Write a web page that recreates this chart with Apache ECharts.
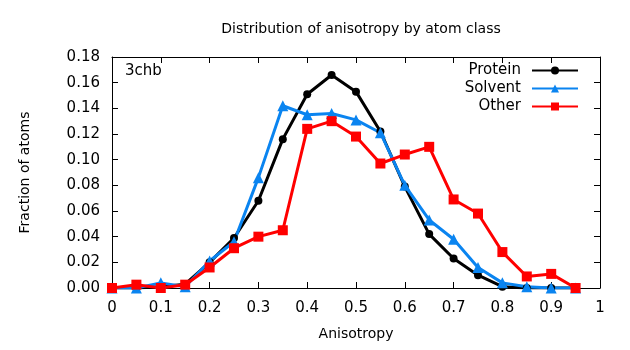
<!DOCTYPE html>
<html>
<head>
<meta charset="utf-8">
<script src="https://cdn.jsdelivr.net/npm/echarts@6/dist/echarts.min.js"></script>
<style>
  html, body { margin: 0; padding: 0; background: #fff; }
  #chart { width: 630px; height: 350px; }
</style>
</head>
<body>
<div id="chart"></div>
<script>
// anisotropy bins (x)
var anisotropy = [0, 0.05, 0.1, 0.15, 0.2, 0.25, 0.3, 0.35, 0.4, 0.45, 0.5, 0.55, 0.6, 0.65, 0.7, 0.75, 0.8, 0.85, 0.9, 0.95];
// fraction of atoms per class
var protein = [0, 0, 0.001, 0.003, 0.020, 0.039, 0.068, 0.116, 0.151, 0.166, 0.153, 0.122, 0.079, 0.042, 0.023, 0.010, 0.001, 0, 0, 0];
var solvent = [0, 0, 0.004, 0.001, 0.021, 0.036, 0.086, 0.142, 0.135, 0.136, 0.131, 0.121, 0.080, 0.053, 0.038, 0.016, 0.004, 0.001, 0, 0];
var other = [0, 0.0026, 0, 0.0026, 0.016, 0.031, 0.040, 0.045, 0.124, 0.130, 0.118, 0.097, 0.104, 0.110, 0.069, 0.058, 0.028, 0.009, 0.011, 0];

function pairs(ys) {
    var out = [];
    for (var i = 0; i < anisotropy.length; i++) {
        out.push([anisotropy[i], ys[i]]);
    }
    return out;
}

var font = "DejaVu Sans";
var myChart = echarts.init(document.getElementById("chart"));

var tickIn = { show: true, inside: true, length: 6, lineStyle: { color: "#000", width: 1 } };
var axisLine = { show: true, onZero: false, lineStyle: { color: "#000", width: 1 } };

var option = {
    animation: false,
    backgroundColor: "#fff",
    textStyle: { fontFamily: font },
    title: [
        {
            text: "Distribution of anisotropy by atom class",
            left: 356, top: 17, textAlign: "center",
            textStyle: { fontFamily: font, fontSize: 14, fontWeight: "normal", color: "#000" }
        },
        {
            text: "3chb",
            left: 120, top: 59,
            textStyle: { fontFamily: font, fontSize: 15, fontWeight: "normal", color: "#000" }
        }
    ],
    legend: {
        orient: "vertical",
        right: 46, top: 58,
        align: "right",
        itemWidth: 46, itemHeight: 10, itemGap: 3,
        textStyle: { fontFamily: font, fontSize: 15, color: "#000", padding: [0, 6, 0, 0] },
        data: ["Protein", "Solvent", "Other"]
    },
    grid: { left: 112, right: 30, top: 57, bottom: 62, show: false },
    xAxis: [
        {
            type: "value", min: 0, max: 1, interval: 0.1,
            name: "Anisotropy", nameLocation: "middle", nameGap: 39,
            nameTextStyle: { fontFamily: font, fontSize: 14, color: "#000" },
            axisLine: axisLine, axisTick: tickIn, splitLine: { show: false },
            axisLabel: {
                fontFamily: font, fontSize: 15, color: "#000", margin: 13,
                formatter: function (v) { return String(Math.round(v * 10) / 10); }
            }
        },
        {
            type: "value", position: "top", min: 0, max: 1, interval: 0.1,
            axisLine: axisLine, axisTick: tickIn, splitLine: { show: false },
            axisLabel: { show: false }
        }
    ],
    yAxis: [
        {
            type: "value", min: 0, max: 0.18, interval: 0.02,
            name: "Fraction of atoms", nameLocation: "middle", nameGap: 80,
            nameTextStyle: { fontFamily: font, fontSize: 14, color: "#000" },
            axisLine: axisLine, axisTick: tickIn, splitLine: { show: false },
            axisLabel: {
                fontFamily: font, fontSize: 15, color: "#000", margin: 12,
                formatter: function (v) { return v.toFixed(2); }
            }
        },
        {
            type: "value", position: "right", min: 0, max: 0.18, interval: 0.02,
            axisLine: axisLine, axisTick: tickIn, splitLine: { show: false },
            axisLabel: { show: false }
        }
    ],
    series: [
        {
            name: "Protein", type: "line", data: pairs(protein),
            symbol: "circle", symbolSize: 8,
            lineStyle: { color: "#000000", width: 3 },
            itemStyle: { color: "#000000" }
        },
        {
            name: "Solvent", type: "line", data: pairs(solvent),
            symbol: "triangle", symbolSize: 11,
            lineStyle: { color: "#0a84f0", width: 3 },
            itemStyle: { color: "#0a84f0" }
        },
        {
            name: "Other", type: "line", data: pairs(other),
            symbol: "rect", symbolSize: 10,
            lineStyle: { color: "#ff0000", width: 3 },
            itemStyle: { color: "#ff0000" }
        }
    ]
};

myChart.setOption(option);
</script>
</body>
</html>
